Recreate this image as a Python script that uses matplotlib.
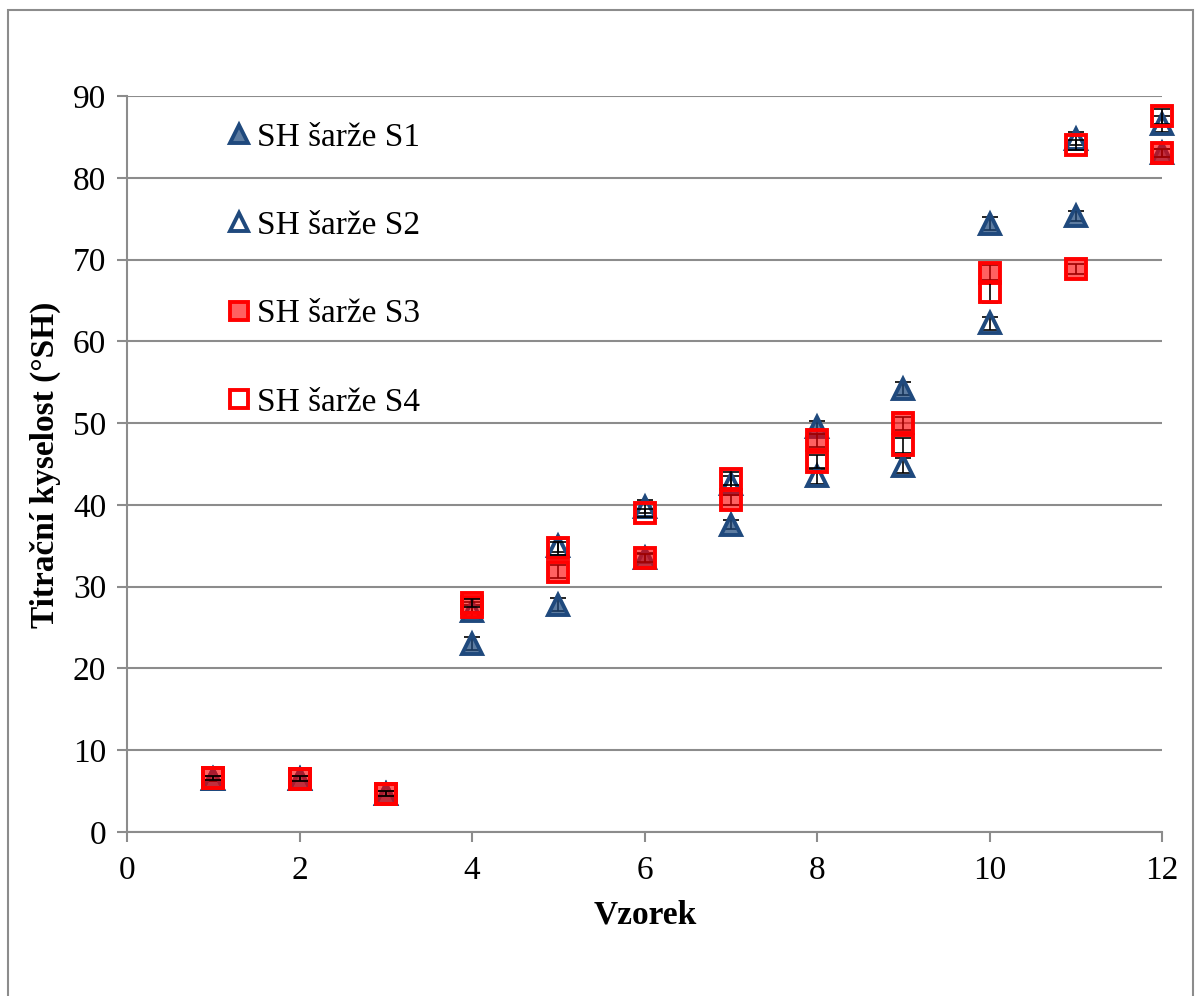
import matplotlib
matplotlib.use("Agg")
import matplotlib.pyplot as plt
from matplotlib.patches import Rectangle

samples = [1, 2, 3, 4, 5, 6, 7, 8, 9, 10, 11, 12]
labels = ["SH šarže S1", "SH šarže S2", "SH šarže S3", "SH šarže S4"]
s1 = [6.5, 6.5, 4.7, 23.0, 27.8, 33.5, 37.6, 49.5, 54.2, 74.4, 75.3, 83.0]
s2 = [6.5, 6.5, 4.7, 27.0, 35.0, 39.8, 42.5, 43.5, 44.8, 62.2, 84.8, 86.6]
s3 = [6.6, 6.5, 4.7, 27.5, 31.8, 33.5, 40.6, 47.9, 50.0, 68.4, 68.8, 83.0]
s4 = [6.6, 6.5, 4.7, 28.0, 34.7, 39.0, 43.2, 45.3, 47.3, 66.0, 84.0, 87.5]
e1 = [0.3, 0.3, 0.3, 0.8, 0.8, 0.6, 0.6, 0.8, 0.8, 0.8, 0.6, 0.5]
e2 = [0.3, 0.3, 0.3, 0.8, 0.8, 0.8, 1.0, 0.9, 0.9, 0.8, 0.8, 1.0]
e3 = [0.3, 0.3, 0.3, 0.6, 0.8, 0.5, 0.6, 0.8, 0.8, 0.9, 0.6, 0.5]
e4 = [0.3, 0.3, 0.3, 0.5, 0.8, 0.5, 0.8, 0.8, 0.9, 1.3, 0.6, 0.9]

plt.rcParams['font.family'] = ['Liberation Serif', 'DejaVu Serif']

W, H = 1195, 996
fig = plt.figure(figsize=(W / 100, H / 100), dpi=100)
fig.patch.set_facecolor('white')
ax = fig.add_axes([127 / W, 1 - 832 / H, (1162 - 127) / W, (832 - 96) / H])

blue = '#1F497D'
blue_fill = (0.122, 0.286, 0.49, 0.72)
red = '#FF0000'
red_fill = (1.0, 0.0, 0.0, 0.62)
grid_c = '#8C8C8C'

series = [
    (s1, e1, dict(marker='^', ms=15, mec=blue, mfc=blue_fill, mew=2.8)),
    (s2, e2, dict(marker='^', ms=15, mec=blue, mfc='none', mew=2.8)),
    (s3, e3, dict(marker='s', ms=15, mec=red, mfc=red_fill, mew=2.8)),
    (s4, e4, dict(marker='s', ms=15, mec=red, mfc='none', mew=2.8)),
]

handles = []
z = 3
for (vals, errs, style), lab in zip(series, labels):
    eb = ax.errorbar(samples, vals, yerr=errs, fmt='none', ecolor='black',
                     elinewidth=1.2, capsize=6, capthick=1.2, zorder=z)
    for art in eb.lines[1] + eb.lines[2]:
        art.set_clip_on(False)
    h, = ax.plot(samples, vals, linestyle='none', label=lab, zorder=z + 0.5,
                 clip_on=False, **style)
    handles.append(h)
    z += 1

ax.set_xlim(0, 12)
ax.set_ylim(0, 90)
ax.set_xticks(range(0, 13, 2))
ax.set_yticks(range(0, 91, 10))
ax.yaxis.grid(True, color=grid_c, linewidth=1.5)
ax.set_axisbelow(True)
for sp in ['top', 'right']:
    ax.spines[sp].set_visible(False)
for sp in ['left', 'bottom']:
    ax.spines[sp].set_color(grid_c)
    ax.spines[sp].set_linewidth(1.5)
ax.tick_params(axis='both', direction='out', length=7, width=1.5, color=grid_c,
               labelsize=24, labelcolor='black')
ax.tick_params(axis='x', pad=10)
ax.tick_params(axis='y', pad=8)

fig.text(645 / W, 1 - 915 / H, 'Vzorek', ha='center', va='center',
         fontsize=24, fontweight='bold')
fig.text(45 / W, 1 - 465 / H, 'Titrační kyselost (°SH)', ha='center', va='center',
         rotation=90, fontsize=24, fontweight='bold')

leg = ax.legend(handles=handles, loc='upper left',
                bbox_to_anchor=(226 / W, 1 - 122 / H), bbox_transform=fig.transFigure,
                frameon=False, fontsize=24, labelspacing=1.74, handlelength=0.8,
                handletextpad=0.12, borderaxespad=0, borderpad=0, markerscale=0.85)

fig.patches.append(Rectangle((8 / W, -0.01), (1193 - 8) / W, 1 - 10 / H + 0.01,
                             transform=fig.transFigure, fill=False,
                             edgecolor='#8C8C8C', linewidth=1.5))

fig.savefig('out.png', dpi=100, facecolor='white')
